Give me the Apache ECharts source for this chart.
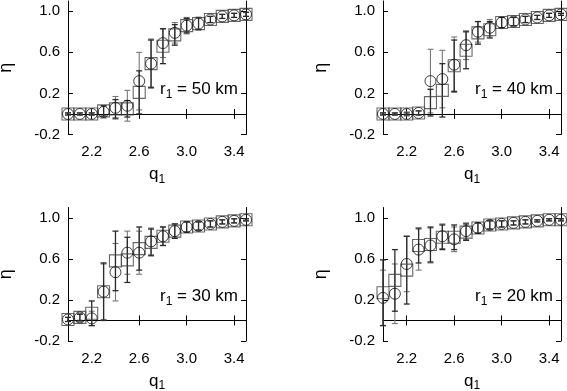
<!DOCTYPE html>
<html>
<head>
<meta charset="utf-8">
<script src="https://cdn.jsdelivr.net/npm/echarts@6/dist/echarts.min.js"></script>
<style>
  html, body { margin: 0; padding: 0; background: #fff; }
  #chart { width: 567px; height: 391px; }
</style>
</head>
<body>
<div id="chart"></div>
<script>
// q1 values (x) shared by all panels
var q1 = [2.0, 2.1, 2.2, 2.3, 2.4, 2.5, 2.6, 2.7, 2.8, 2.9, 3.0, 3.1, 3.2, 3.3, 3.4, 3.5];
var xTicks = [2.2, 2.6, 3.0, 3.4];
var yTicks = [-0.2, 0.2, 0.6, 1.0];
var radii = ['50', '40', '30', '20'];

// r1 = 50 km
var sq50 = [0.0, 0.0, 0.0, 0.03, 0.05, 0.05, 0.21, 0.49, 0.66, 0.77, 0.86, 0.88, 0.92, 0.95, 0.96, 0.97];
var sqErr50 = [0.01, 0.01, 0.01, 0.05, 0.09, 0.08, 0.21, 0.23, 0.17, 0.10, 0.07, 0.06, 0.03, 0.02, 0.02, 0.02];
var ci50 = [0.0, 0.0, 0.0, 0.02, 0.06, 0.08, 0.32, 0.49, 0.69, 0.79, 0.86, 0.88, 0.92, 0.95, 0.96, 0.97];
var ciErr50 = [0.01, 0.01, 0.01, 0.06, 0.11, 0.15, 0.28, 0.24, 0.14, 0.10, 0.08, 0.06, 0.03, 0.02, 0.02, 0.02];

// r1 = 40 km
var sq40 = [0.0, 0.0, 0.0, 0.01, 0.11, 0.23, 0.47, 0.62, 0.79, 0.82, 0.89, 0.90, 0.92, 0.94, 0.96, 0.97];
var sqErr40 = [0.01, 0.01, 0.01, 0.02, 0.13, 0.26, 0.25, 0.18, 0.11, 0.08, 0.05, 0.04, 0.03, 0.02, 0.02, 0.01];
var ci40 = [0.0, 0.0, 0.0, 0.01, 0.32, 0.34, 0.48, 0.67, 0.80, 0.84, 0.89, 0.90, 0.92, 0.94, 0.96, 0.97];
var ciErr40 = [0.01, 0.01, 0.02, 0.02, 0.31, 0.28, 0.27, 0.14, 0.10, 0.08, 0.05, 0.04, 0.03, 0.02, 0.02, 0.01];

// r1 = 30 km
var sq30 = [0.01, 0.03, 0.07, 0.28, 0.58, 0.59, 0.70, 0.76, 0.82, 0.87, 0.91, 0.92, 0.94, 0.96, 0.97, 0.98];
var sqErr30 = [0.02, 0.03, 0.12, 0.28, 0.29, 0.22, 0.21, 0.13, 0.09, 0.07, 0.05, 0.04, 0.03, 0.02, 0.02, 0.01];
var ci30 = [0.01, 0.03, 0.02, 0.28, 0.47, 0.66, 0.66, 0.77, 0.82, 0.87, 0.91, 0.92, 0.94, 0.96, 0.97, 0.98];
var ciErr30 = [0.02, 0.04, 0.07, 0.27, 0.28, 0.21, 0.21, 0.13, 0.09, 0.07, 0.05, 0.04, 0.03, 0.02, 0.02, 0.01];

// r1 = 20 km
var sq20 = [0.27, 0.39, 0.49, 0.73, 0.74, 0.81, 0.81, 0.86, 0.90, 0.93, 0.94, 0.95, 0.96, 0.97, 0.98, 0.98];
var sqErr20 = [0.32, 0.30, 0.33, 0.17, 0.17, 0.12, 0.12, 0.08, 0.05, 0.04, 0.03, 0.02, 0.02, 0.01, 0.01, 0.01];
var ci20 = [0.22, 0.26, 0.55, 0.69, 0.73, 0.82, 0.79, 0.87, 0.90, 0.93, 0.94, 0.95, 0.96, 0.97, 0.98, 0.98];
var ciErr20 = [0.27, 0.29, 0.27, 0.20, 0.17, 0.12, 0.12, 0.08, 0.05, 0.04, 0.03, 0.02, 0.02, 0.01, 0.01, 0.01];

var sqAll = [sq50, sq40, sq30, sq20];
var sqErrAll = [sqErr50, sqErr40, sqErr30, sqErr20];
var ciAll = [ci50, ci40, ci30, ci20];
var ciErrAll = [ciErr50, ciErr40, ciErr30, ciErr20];

var FONT = 'Liberation Sans, Arial, sans-serif';

// grid boxes: 2 x 2 panels (outerBoundsMode none so names can sit near the edge)
var grids = [
  { left: 68, top: 1, width: 178, height: 133.5, outerBoundsMode: 'none', containLabel: false },
  { left: 383, top: 1, width: 178, height: 133.5, outerBoundsMode: 'none', containLabel: false },
  { left: 68, top: 207.5, width: 178, height: 133.5, outerBoundsMode: 'none', containLabel: false },
  { left: 383, top: 207.5, width: 178, height: 133.5, outerBoundsMode: 'none', containLabel: false }
];

// error bar renderer (vertical line + caps)
function errBar(color, width) {
  return function (params, api) {
    var x = api.value(0);
    var lo = api.coord([x, api.value(1)]);
    var hi = api.coord([x, api.value(2)]);
    var cap = 3;
    var st = { stroke: color, lineWidth: width };
    return {
      type: 'group',
      children: [
        { type: 'line', shape: { x1: lo[0], y1: lo[1], x2: hi[0], y2: hi[1] }, style: st },
        { type: 'line', shape: { x1: lo[0] - cap, y1: lo[1], x2: lo[0] + cap, y2: lo[1] }, style: st },
        { type: 'line', shape: { x1: hi[0] - cap, y1: hi[1], x2: hi[0] + cap, y2: hi[1] }, style: st }
      ]
    };
  };
}

function fmt(v) { return v.toFixed(1); }

var xAxes = [], yAxes = [], series = [], graphics = [];
var lineStyle = { color: '#000', width: 1 };

for (var i = 0; i < 4; i++) {
  // bottom x axis with labels
  xAxes.push({
    type: 'value', gridIndex: i, min: 2.0, max: 3.5, position: 'bottom',
    axisLine: { show: true, lineStyle: lineStyle },
    axisTick: { show: true, inside: true, length: 5, customValues: xTicks, lineStyle: lineStyle },
    axisLabel: { customValues: xTicks, formatter: fmt, color: '#000', fontSize: 15, fontFamily: FONT, margin: 10 },
    splitLine: { show: false },
    name: '{a|q}{s|1}', nameLocation: 'middle', nameGap: 29,
    nameTextStyle: {
      color: '#000', fontFamily: FONT,
      rich: {
        a: { fontSize: 17, fontFamily: FONT, color: '#000' },
        s: { fontSize: 12, fontFamily: FONT, color: '#000', padding: [10, 0, 0, 0] }
      }
    }
  });
  // top x axis, ticks only
  xAxes.push({
    type: 'value', gridIndex: i, min: 2.0, max: 3.5, position: 'top',
    axisLine: { show: true, lineStyle: lineStyle },
    axisTick: { show: true, inside: true, length: 5, customValues: xTicks, lineStyle: lineStyle },
    axisLabel: { show: false },
    splitLine: { show: false }
  });
  // left y axis with labels
  yAxes.push({
    type: 'value', gridIndex: i, min: -0.2, max: 1.1, position: 'left',
    axisLine: { show: true, lineStyle: lineStyle },
    axisTick: { show: true, inside: true, length: 5, customValues: yTicks, lineStyle: lineStyle },
    axisLabel: { customValues: yTicks, formatter: fmt, color: '#000', fontSize: 15, fontFamily: FONT, margin: 8 },
    splitLine: { show: false },
    name: 'η', nameLocation: 'middle', nameGap: 53, nameRotate: 90,
    nameTextStyle: { color: '#000', fontSize: 18, fontFamily: FONT }
  });
  // right y axis, ticks only
  yAxes.push({
    type: 'value', gridIndex: i, min: -0.2, max: 1.1, position: 'right',
    axisLine: { show: true, lineStyle: lineStyle },
    axisTick: { show: true, inside: true, length: 5, customValues: yTicks, lineStyle: lineStyle },
    axisLabel: { show: false },
    splitLine: { show: false }
  });

  var sq = sqAll[i], sqE = sqErrAll[i], ci = ciAll[i], ciE = ciErrAll[i];
  var sqBars = [], ciBars = [], sqPts = [], ciPts = [];
  for (var k = 0; k < q1.length; k++) {
    sqBars.push([q1[k], sq[k] - sqE[k], sq[k] + sqE[k]]);
    ciBars.push([q1[k], ci[k] - ciE[k], ci[k] + ciE[k]]);
    sqPts.push([q1[k], sq[k]]);
    ciPts.push([q1[k], ci[k]]);
  }

  series.push({
    type: 'custom', xAxisIndex: 2 * i, yAxisIndex: 2 * i,
    renderItem: errBar('#777', 1.1), data: ciBars, encode: { x: 0, y: [1, 2] }, z: 1
  });
  series.push({
    type: 'custom', xAxisIndex: 2 * i, yAxisIndex: 2 * i,
    renderItem: errBar('#2a2a2a', 1.3), data: sqBars, encode: { x: 0, y: [1, 2] }, z: 2
  });
  series.push({
    type: 'scatter', xAxisIndex: 2 * i, yAxisIndex: 2 * i, data: sqPts,
    symbol: 'rect', symbolSize: 12, z: 3,
    itemStyle: { color: 'rgba(0,0,0,0)', borderColor: '#444', borderWidth: 1.1 }
  });
  series.push({
    type: 'scatter', xAxisIndex: 2 * i, yAxisIndex: 2 * i, data: ciPts,
    symbol: 'circle', symbolSize: 11, z: 4,
    itemStyle: { color: 'rgba(0,0,0,0)', borderColor: '#111', borderWidth: 1 }
  });

  // r1 = xx km annotation inside the panel
  var g = grids[i];
  graphics.push({
    type: 'text',
    right: 567 - (g.left + g.width) + 8,
    top: g.top + 80,
    style: {
      text: '{a|r}{s|1}{a| = ' + radii[i] + ' km}',
      rich: {
        a: { fontSize: 17, fontFamily: FONT, fill: '#000' },
        s: { fontSize: 12, fontFamily: FONT, fill: '#000', padding: [11, 0, 0, 0] }
      }
    }
  });
}

var chart = echarts.init(document.getElementById('chart'), null, { renderer: 'canvas' });
chart.setOption({
  animation: false,
  backgroundColor: '#fff',
  grid: grids,
  xAxis: xAxes,
  yAxis: yAxes,
  series: series,
  graphic: graphics
});
</script>
</body>
</html>
